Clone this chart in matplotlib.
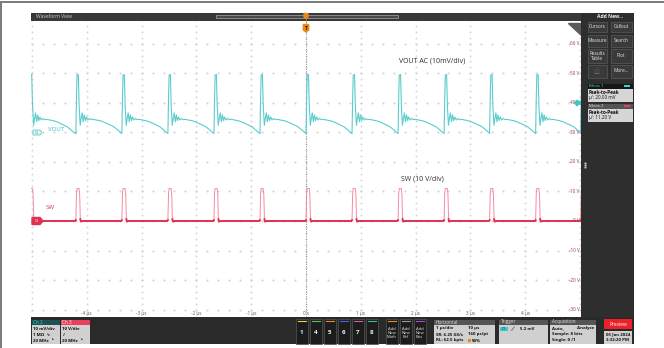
import matplotlib

matplotlib.use("Agg")

import matplotlib.pyplot as plt
import numpy as np
from matplotlib.patches import Polygon, Rectangle

plt.rcParams["font.family"] = ["Open Sans", "DejaVu Sans"]

# switching edges (rising edge of each SW pulse), µs
edge_times = [-5.05, -4.20, -3.36, -2.52, -1.68, -0.84, 0.00, 0.84, 1.68, 2.52, 3.35, 4.19, 5.01]

# one VOUT cycle after an edge: time offset (µs) and AC level (mV)
vout_dt = [0.000, 0.012, 0.022, 0.045, 0.060, 0.080, 0.095, 0.115, 0.135, 0.155,
           0.175, 0.195, 0.220, 0.250, 0.280, 0.320, 0.370, 0.430, 0.500, 0.570,
           0.640, 0.700, 0.750, 0.790, 0.825]
vout_mv = [-0.4, 12.0, 19.4, 19.6, 9.0, 2.4, 4.5, 6.6, 3.6, 5.9,
           4.0, 5.2, 4.2, 4.7, 4.3, 4.4, 4.2, 4.0, 3.6, 3.0,
           2.4, 1.8, 1.0, 0.4, -0.2]

# one SW pulse around an edge: time offset (µs) and level (V)
sw_dt = [-0.010, 0.000, 0.012, 0.022, 0.058, 0.070, 0.082, 0.092, 0.120]
sw_v = [0.0, 0.3, 9.5, 11.0, 11.0, 9.0, 0.6, -0.2, 0.0]

time_labels = ["-4 µs", "-3 µs", "-2 µs", "-1 µs", "0 s", "1 µs", "2 µs", "3 µs", "4 µs"]
volt_levels = [60, 50, 40, 30, 20, 10, 0, -10, -20, -30]

VOUT_POS = 30.0  # ch2 ground marker sits on the 30 V line of ch3's scale

W, H = 664, 348
fig = plt.figure(figsize=(W / 100, H / 100), dpi=100)
fig.patch.set_facecolor("white")

# waveform area
ax = fig.add_axes([31 / W, 1 - 317 / H, 550 / W, 296 / H], zorder=2)
ax.set_xlim(-5.018, 5.018)
ax.set_ylim(-32.5, 67.7)
ax.axis("off")
ax.add_patch(Rectangle((-5.018, -32.5), 10.036, 100.2, color="white", zorder=0))

# dotted graticule
gx = np.arange(-5, 5.01, 1.0)
gy = np.arange(-30, 70.1, 10.0)
for x in gx:
    ys = np.arange(-30, 70.1, 2.0)
    ax.plot(np.full_like(ys, x), ys, ls="none", marker="s", ms=0.45, color="#d9d9d9", zorder=1)
for y in gy:
    xs = np.arange(-5, 5.01, 0.2)
    ax.plot(xs, np.full_like(xs, y), ls="none", marker="s", ms=0.5, color="#d4d4d4", zorder=1)
ax.plot([0, 0], [-32.5, 67.7], color="#8a8a8a", lw=0.6, ls=(0, (1.5, 1.5)), zorder=1)

# build traces from the per-cycle shapes
vt, vv, st, sv = [], [], [], []
for e in edge_times:
    vt += [e + d for d in vout_dt]
    vv += [VOUT_POS + m for m in vout_mv]
    st += [e + d for d in sw_dt]
    sv += sw_v
vt, vv, st, sv = map(np.array, (vt, vv, st, sv))

ax.plot(vt, vv, color="#5ccccc", lw=0.8, zorder=4)
ax.plot(st, sv, color="#f28ca2", lw=0.7, zorder=4)
ax.plot(st, np.where(sv < 1.0, sv, np.nan), color="#e2304f", lw=1.4, zorder=5)

for v in volt_levels:
    ax.text(4.99, v, f"{v} V", ha="right", va="center", fontsize=3.3, color="#a0304a", zorder=6)
for t, lab in zip(range(-4, 5), time_labels):
    ax.text(t, -31.2, lab, ha="center", va="center", fontsize=3.3, color="#555555", zorder=6)

ax.text(2.30, 54.1, "VOUT AC (10mV/div)", ha="center", va="center", fontsize=5.0, color="#2e2e2e")
ax.text(2.13, 14.2, "SW (10 V/div)", ha="center", va="center", fontsize=5.0, color="#2e2e2e")
ax.text(-4.71, 31.0, "VOUT", ha="left", va="center", fontsize=4.4, color="#3bbcbc")
ax.text(-4.76, 4.4, "SW", ha="left", va="center", fontsize=4.4, color="#d23a58")

# instrument chrome in pixel coordinates
ui = fig.add_axes([0, 0, 1, 1], zorder=5)
ui.set_xlim(0, W)
ui.set_ylim(H, 0)
ui.axis("off")
ui.patch.set_alpha(0)


def box(x, y, w, h, fc, ec="none", lw=0.5):
    ui.add_patch(Rectangle((x, y), w, h, facecolor=fc, edgecolor=ec, lw=lw))


def txt(x, y, s, size=3.4, color="#111111", ha="left", weight="normal"):
    ui.text(x, y, s, fontsize=size, color=color, ha=ha, va="center", fontweight=weight)


ui.plot([0, W], [1.5, 1.5], color="#7a7a7a", lw=1.4)
ui.plot([0.8, 0.8], [1.5, H], color="#7a7a7a", lw=1.4)

# title bar
box(31, 13, 550, 8, "#383838")
txt(36, 17, "Waveform View", size=3.6, color="#cfcfcf")
box(216, 15, 182, 2.6, "#4a4a4a", ec="#a8a8a8", lw=0.5)
ui.add_patch(Polygon([(304, 13.5), (308, 13.5), (308, 17), (306, 18.5), (304, 17)], color="#e8891a"))
ui.plot([306, 306], [18.5, 24.5], color="#e8891a", lw=0.5)
ui.add_patch(Polygon([(303.3, 24.5), (308.7, 24.5), (308.7, 30), (306, 32), (303.3, 30)], color="#e8891a"))
txt(306, 28, "T", size=3.4, color="#111111", ha="center", weight="bold")

# corner tab and trigger level arrow
ui.add_patch(Polygon([(568, 23), (581, 23), (581, 35)], color="#5a5a5a"))
ui.add_patch(Polygon([(574.5, 103), (577.5, 100), (577.5, 101.8), (581, 101.8),
                      (581, 104.2), (577.5, 104.2), (577.5, 106)], color="#3cc6d0"))

# channel badges
ui.add_patch(Polygon([(33, 130), (40, 130), (42, 132.5), (40, 135), (33, 135)],
                     facecolor="#e6f7f7", edgecolor="#5ccccc", lw=0.6))
txt(37, 132.5, "C2", size=2.6, color="#2aa0a0", ha="center")
ui.add_patch(Polygon([(32, 217.5), (40, 217.5), (43, 221), (40, 224.5), (32, 224.5)], color="#e2304f"))
txt(36.5, 221, "C3", size=2.6, color="white", ha="center")

# right side panel
box(581, 13, 53, 331, "#2e2e2e")
txt(610, 16.5, "Add New...", size=3.6, color="#f0f0f0", ha="center", weight="bold")
buttons = [
    (587.5, 21.5, 19, 10.5, "Cursors"), (610.5, 21.5, 21, 10.5, "Callout"),
    (587.5, 35, 19, 11.5, "Measure"), (610.5, 35, 21, 11.5, "Search"),
    (587.5, 49, 19, 13.5, "Results\nTable"), (610.5, 49, 21, 13.5, "Plot"),
    (587.5, 64.5, 19, 13, "⬚"), (610.5, 64.5, 21, 13, "More..."),
]
for bx, by, bw, bh, lab in buttons:
    box(bx, by, bw, bh, "#3a3a3a", ec="#5a5a5a", lw=0.5)
    ui.text(bx + bw / 2, by + bh / 2, lab, fontsize=3.4, color="#e6e6e6",
            ha="center", va="center", linespacing=0.9)

box(587.5, 83.5, 45, 5, "#161616")
txt(589, 86, "Meas 1", size=3.2, color="#3fd0d0")
box(624, 84.6, 6, 2.8, "#3fd0d0")
box(587.5, 88.5, 45, 13, "#d6d6d6")
txt(589, 92, "Peak-to-Peak", size=3.3, weight="bold")
txt(589, 98, "µ': 20.00 mV", size=3.3)
box(587.5, 103.5, 45, 5, "#555555")
txt(589, 106, "Meas 2", size=3.2, color="#dddddd")
box(624, 104.6, 6, 2.8, "#e8405a")
box(587.5, 108.5, 45, 13, "#d6d6d6")
txt(589, 112, "Peak-to-Peak", size=3.3, weight="bold")
txt(589, 118, "µ': 11.20 V", size=3.3)
ui.plot([585, 585, 585], [163, 165, 167], ls="none", marker="s", ms=0.6, color="#bbbbbb")

# bottom bar
box(31, 317, 603, 27, "#2a2a2a")

box(31.5, 319.5, 28, 5, "#1d5252")
txt(33, 322, "Ch 2", size=3.3, color="#3fd0d0")
box(31.5, 324.5, 28, 19, "#d0d0d0")
txt(33, 328.5, "10 mV/div", size=3.2, weight="bold")
txt(33, 334.5, "1 MΩ  ∿", size=3.2, weight="bold")
txt(33, 340.5, "20 MHz   ʰ", size=3.2, weight="bold")

box(61, 319.5, 28.5, 5, "#e8405a")
txt(62.5, 322, "Ch 3", size=3.3, color="white")
box(61, 324.5, 28.5, 19, "#d0d0d0")
txt(62.5, 328.5, "10 V/div", size=3.2, weight="bold")
txt(62.5, 334.5, "∕∕", size=3.0)
txt(62.5, 340.5, "20 MHz   ʰ", size=3.2, weight="bold")

chan_buttons = [("1", 296, "#e6d24a"), ("4", 310, "#5cbf5c"), ("5", 324, "#e88a30"),
                ("6", 338, "#4a66e0"), ("7", 352, "#d060a8"), ("8", 366, "#3cc08a")]
for lab, bx, col in chan_buttons:
    box(bx, 318.5, 11.5, 25, "#1c1c1c", ec="#555555", lw=0.5)
    ui.plot([bx + 1.5, bx + 10], [321, 321], color=col, lw=0.8)
    txt(bx + 5.75, 333, lab, size=4.4, color="#f0f0f0", ha="center", weight="bold")

add_buttons = [("Add\nNew\nMath", 386, "#e88a30"), ("Add\nNew\nRef", 400, "#9a9a9a"),
               ("Add\nNew\nBus", 414, "#9a50d0")]
for lab, bx, col in add_buttons:
    box(bx, 318.5, 11.5, 25, "#1c1c1c", ec="#555555", lw=0.5)
    ui.plot([bx + 1.5, bx + 10], [321, 321], color=col, lw=0.8)
    ui.text(bx + 5.75, 333, lab, fontsize=3.0, color="#e6e6e6", ha="center",
            va="center", linespacing=0.95)

box(434, 319.5, 61, 5, "#555555")
txt(435.5, 322, "Horizontal", size=3.3, color="#dddddd")
box(434, 324.5, 61, 19, "#d0d0d0")
txt(435.5, 328.5, "1 µs/div", size=3.2, weight="bold")
txt(468, 328.5, "10 µs", size=3.2, weight="bold")
txt(435.5, 334.5, "SR: 6.25 GS/s", size=3.2, weight="bold")
txt(468, 334.5, "160 ps/pt", size=3.2, weight="bold")
txt(435.5, 340.5, "RL: 62.5 kpts", size=3.2, weight="bold")
box(468, 339, 2.8, 2.8, "#e8891a")
txt(472, 340.5, "50%", size=3.2, weight="bold")

box(499, 319.5, 49, 5, "#555555")
txt(500.5, 322, "Trigger", size=3.3, color="#dddddd")
box(499, 324.5, 49, 19, "#d0d0d0")
box(500, 326.5, 8, 4, "#3cc6d0")
txt(504, 328.5, "C2", size=2.6, color="#1a3a3a", ha="center")
ui.plot([511.5, 514.5], [330.5, 326.8], color="#555555", lw=0.5)
txt(520, 328.5, "5.2 mV", size=3.2, weight="bold")

box(550, 319.5, 46, 5, "#555555")
txt(551.5, 322, "Acquisition", size=3.3, color="#dddddd")
box(550, 324.5, 46, 19, "#d0d0d0")
txt(551.5, 328.5, "Auto,", size=3.2, weight="bold")
txt(594.5, 328.5, "Analyze", size=3.2, weight="bold", ha="right")
txt(551.5, 334.5, "Sample: 8 bits", size=3.2, weight="bold")
txt(551.5, 340.5, "Single: 0 /1", size=3.2, weight="bold")

box(604, 319, 28, 10, "#ec2028")
txt(618, 324, "Preview", size=3.5, color="white", ha="center")
box(604, 331, 28, 12.5, "#d0d0d0")
txt(618, 334.5, "05 Jan 2024", size=3.2, ha="center", weight="bold")
txt(618, 340.2, "3:32:20 PM", size=3.2, ha="center", weight="bold")

fig.savefig("out.png", dpi=100)
plt.close(fig)
